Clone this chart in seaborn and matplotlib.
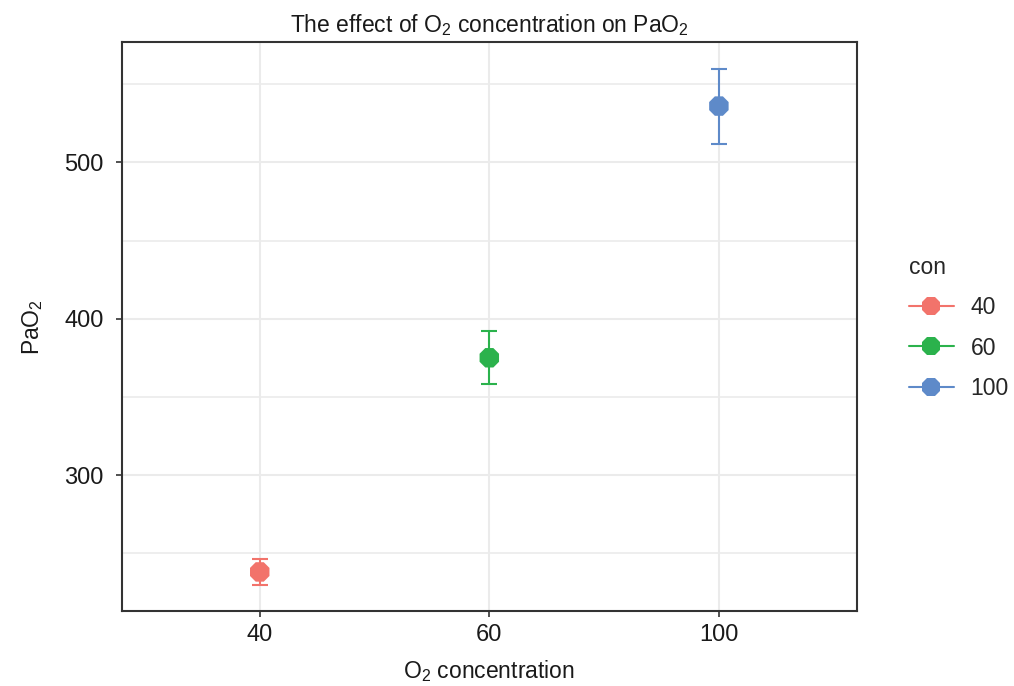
import numpy as np
import pandas as pd
import matplotlib
matplotlib.use("Agg")
import matplotlib.pyplot as plt
from matplotlib.lines import Line2D
import seaborn as sns

categories = ["40", "60", "100"]
means = [238, 375, 536]
errs = [8.5, 17, 24]
colors = ["#F2736B", "#2BB24C", "#5E8AC9"]

sns.set_theme(style="white")
plt.rcParams["font.family"] = ["Liberation Sans", "DejaVu Sans"]
plt.rcParams["mathtext.fontset"] = "custom"
plt.rcParams["mathtext.rm"] = "Liberation Sans"
plt.rcParams["mathtext.it"] = "Liberation Sans"

df = pd.DataFrame({"con": categories, "PaO2": means, "sd": errs})
df["con"] = pd.Categorical(df["con"], categories=categories, ordered=True)

fig = plt.figure(figsize=(10.14, 6.86), dpi=100)
ax = fig.add_axes([0.1203, 0.1093, 0.7245, 0.8295])

pal = dict(zip(categories, colors))
for i, (c, m, e) in enumerate(zip(categories, means, errs)):
    ax.errorbar(i, m, yerr=e, color=pal[c], capsize=6, capthick=1.5, elinewidth=1.5, fmt="none", zorder=3)
sns.scatterplot(data=df, x="con", y="PaO2", hue="con", palette=pal, marker="8", s=230,
                edgecolor="none", legend=False, ax=ax, zorder=4)

ax.set_xlim(-0.6, 2.6)
ax.set_ylim(213, 577)
ax.set_yticks([300, 400, 500])
ax.set_yticks([250, 350, 450, 550], minor=True)
ax.grid(True, which="major", color="#EBEBEB", linewidth=1.5)
ax.grid(True, which="minor", axis="y", color="#EBEBEB", linewidth=1.2)
ax.set_axisbelow(True)
for s in ax.spines.values():
    s.set_color("#333333")
    s.set_linewidth(1.5)
ax.tick_params(axis="both", which="major", length=4, width=1.2, color="#333333",
               labelsize=17, labelcolor="#1A1A1A", direction="out", bottom=True, left=True, pad=5)
ax.tick_params(axis="y", which="major", pad=9)
ax.tick_params(axis="y", which="minor", length=0)

ax.set_xlabel("O$_2$ concentration", fontsize=16.5, color="#1A1A1A", labelpad=9)
ax.set_ylabel("PaO$_2$", fontsize=16.5, color="#1A1A1A", labelpad=14)
ax.set_title("The effect of O$_2$ concentration on PaO$_2$", fontsize=16.5, color="#1A1A1A", pad=7)

handles = [Line2D([0], [0], color=pal[c], marker="8", markersize=13.5, linewidth=1.5,
                  markeredgewidth=0) for c in categories]
leg = fig.legend(handles, categories, title="con", loc="center left",
                 bbox_to_anchor=(0.896, 0.522), frameon=False, fontsize=16.5,
                 title_fontsize=16.5, handlelength=2.0, labelspacing=0.75,
                 alignment="left", borderaxespad=0, borderpad=0, handletextpad=0.7)

fig.savefig("out.png", dpi=100)
